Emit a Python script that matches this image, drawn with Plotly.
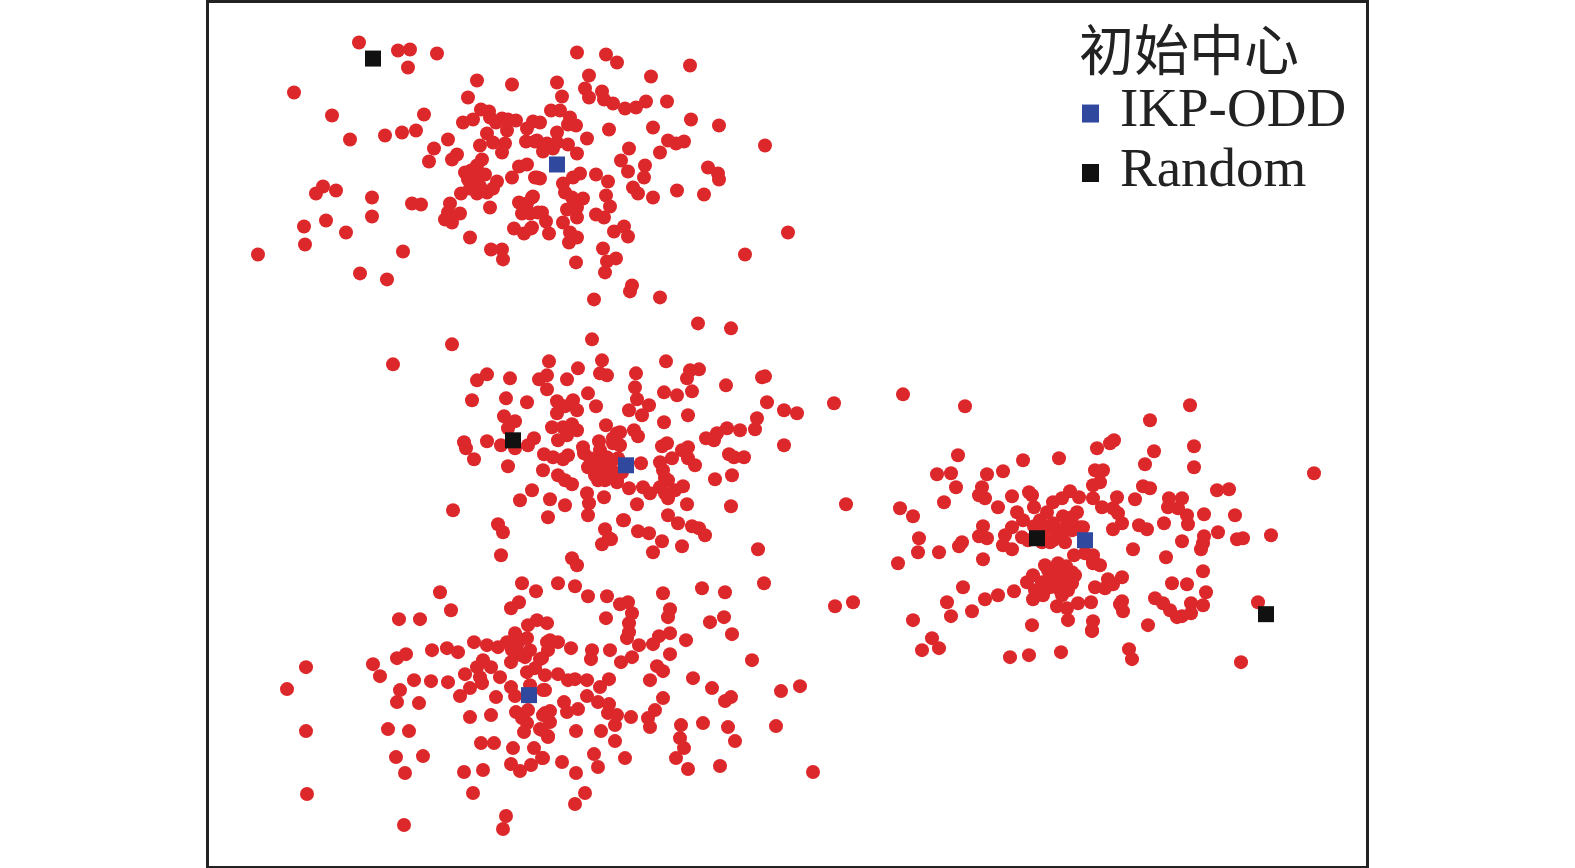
import plotly.graph_objects as go

# values, one list per cluster
cluster_top = [
    (359,42),(398,50),(410,49),(437,53),(408,67),(294,92),(332,115),(350,139),(385,135),(402,132),
    (416,130),(424,114),(477,80),(512,84),(468,97),(481,109),(489,111),(463,122),(473,119),(490,117),
    (496,122),(502,118),(508,119),(516,120),(533,121),(527,128),(487,133),(507,130),(493,142),(505,143),
    (502,152),(526,141),(535,141),(480,145),(448,139),(434,148),(457,154),(452,159),(429,161),(482,159),
    (527,164),(519,166),(471,170),(485,174),(477,165),(468,179),(473,183),(497,181),(512,177),(537,177),
    (323,186),(316,193),(336,190),(372,197),(412,203),(421,204),(372,216),(461,193),(450,203),(477,193),
    (487,192),(493,188),(490,207),(460,213),(448,212),(445,219),(452,222),(533,196),(519,202),(527,203),
    (522,213),(530,213),(538,212),(532,227),(514,228),(524,233),(304,226),(326,220),(346,232),(305,244),
    (258,254),(403,251),(470,237),(491,249),(502,249),(503,259),(360,273),(387,279),
    (577,52),(606,54),(617,62),(690,65),(589,75),(651,76),(557,82),(585,88),(602,91),(562,96),
    (589,97),(604,99),(613,103),(625,108),(636,107),(646,101),(667,101),(551,110),(560,110),(570,117),
    (568,124),(576,125),(691,119),(719,125),(540,122),(609,129),(653,127),(557,132),(587,138),(668,140),
    (676,143),(684,141),(765,145),(537,140),(547,143),(557,142),(568,144),(543,151),(553,148),(577,153),
    (629,148),(660,152),(621,160),(645,165),(708,167),(628,171),(718,173),(719,179),(580,173),(596,174),
    (608,181),(540,178),(535,177),(563,183),(573,177),(644,177),(633,187),(638,193),(653,197),(677,190),
    (704,194),(565,192),(606,195),(572,197),(583,198),(532,197),(610,206),(567,209),(577,207),(596,214),
    (604,217),(577,217),(542,212),(546,221),(563,222),(549,233),(531,228),(624,226),(614,231),(628,236),
    (570,232),(577,237),(569,242),(603,248),(616,258),(607,261),(605,272),(576,262),(788,232),(745,254),
    (632,285),(630,291),(660,297),(594,299),
    (465,172),(478,172),(470,188),(480,186),(475,178),
]
cluster_middle = [
    (452,344),(393,364),(592,339),(549,361),(602,360),(487,374),(477,380),(510,378),(547,375),(539,379),
    (578,368),(567,379),(600,373),(607,375),(547,389),(588,393),(506,398),(472,400),(527,402),(557,401),
    (573,400),(565,406),(577,410),(557,413),(596,406),(504,416),(515,421),(508,428),(552,427),(563,427),
    (572,424),(577,430),(606,425),(567,435),(558,440),(534,438),(528,445),(583,447),(599,441),(464,442),
    (466,448),(487,441),(501,445),(515,448),(474,459),(508,466),(544,454),(553,457),(568,455),(563,459),
    (584,453),(543,470),(558,475),(565,480),(572,484),(588,467),(597,460),(598,480),(587,493),(604,497),
    (532,490),(520,500),(550,499),(565,505),(589,503),(588,515),(548,517),(453,510),(498,524),(503,532),
    (501,555),(605,529),(609,538),(602,544),(572,558),(577,565),(617,433),(613,443),(607,457),(593,467),
    (603,470),(617,480),(623,520),
    (698,323),(731,328),(666,361),(636,373),(699,369),(690,370),(687,378),(765,376),(762,377),(635,387),
    (726,385),(664,392),(677,395),(692,391),(637,399),(649,405),(629,410),(642,415),(767,402),(784,410),
    (797,413),(834,403),(688,415),(664,422),(757,418),(755,429),(740,430),(727,428),(717,433),(706,438),
    (714,440),(620,432),(634,430),(638,436),(613,438),(667,443),(662,446),(688,447),(682,450),(672,458),
    (784,445),(729,454),(734,457),(744,457),(660,462),(641,463),(688,458),(695,465),(663,470),(732,475),
    (715,479),(665,478),(617,482),(629,488),(643,487),(650,493),(660,487),(668,480),(683,486),(675,490),
    (665,493),(668,498),(637,504),(687,504),(731,506),(846,504),(668,515),(678,523),(624,520),(692,526),
    (699,528),(705,535),(638,531),(649,533),(662,541),(682,546),(653,552),(758,549),(611,539),
    (600,450),(610,462),(595,475),(605,480),(612,470),(590,458),(620,445),(618,458),(622,472),
]
cluster_bottom = [
    (522,583),(536,591),(440,592),(451,610),(519,602),(511,608),(399,619),(420,619),(537,620),(528,625),
    (547,623),(515,633),(507,642),(474,642),(487,645),(498,647),(517,645),(527,638),(547,642),(432,650),
    (447,648),(458,652),(406,654),(397,658),(306,667),(373,664),(380,676),(483,660),(477,667),(491,667),
    (511,662),(525,657),(540,659),(527,672),(535,668),(465,674),(480,677),(500,677),(545,675),(414,680),
    (431,681),(448,682),(482,683),(470,688),(511,687),(530,685),(545,690),(400,690),(460,696),(496,697),
    (515,696),(287,689),(397,702),(419,703),(516,712),(528,710),(545,713),(470,717),(491,715),(522,718),
    (527,723),(524,732),(540,729),(548,737),(306,731),(388,729),(409,731),(481,743),(494,743),(513,748),
    (534,748),(396,757),(423,756),(542,758),(511,764),(531,765),(520,771),(405,773),(464,772),(483,770),
    (473,793),(307,794),(506,816),(503,829),(404,825),
    (558,583),(575,586),(588,596),(607,596),(620,604),(628,602),(632,613),(663,593),(702,588),(725,592),
    (764,583),(670,609),(668,617),(724,617),(710,622),(606,618),(629,623),(629,632),(732,634),(670,633),
    (659,636),(653,644),(627,638),(639,645),(686,640),(550,640),(558,642),(548,650),(571,648),(592,650),
    (591,659),(610,650),(632,657),(621,662),(670,654),(752,660),(542,658),(657,666),(663,671),(650,680),
    (693,678),(558,674),(568,680),(575,679),(587,680),(609,679),(600,687),(543,690),(712,688),(800,686),
    (781,691),(587,696),(564,702),(598,702),(609,704),(663,698),(731,697),(725,701),(578,709),(567,712),
    (655,710),(550,711),(608,713),(617,715),(631,717),(648,718),(543,715),(550,722),(615,725),(650,727),
    (681,725),(703,723),(728,727),(776,726),(576,731),(601,731),(548,736),(542,730),(680,738),(735,741),
    (615,741),(684,748),(594,754),(676,758),(625,758),(543,758),(562,762),(598,767),(688,769),(720,766),
    (576,773),(813,772),(585,793),(575,804),(835,606),(853,602),
    (520,640),(512,650),(530,650),(521,655),
]
cluster_right = [
    (903,394),(965,406),(958,455),(1023,460),(1059,458),(1097,448),(937,474),(951,473),(987,474),(1003,471),
    (1095,470),(956,487),(982,487),(979,495),(985,498),(1012,496),(1029,492),(1032,495),(1093,485),(1070,491),
    (1079,497),(1062,498),(1053,502),(1093,498),(944,502),(900,508),(998,507),(913,516),(1034,507),(1017,512),
    (1047,512),(1077,512),(1063,516),(1072,517),(1023,520),(1040,520),(1053,523),(983,526),(1012,527),(1080,527),
    (1065,528),(919,538),(979,536),(987,538),(962,542),(959,546),(1005,535),(1022,537),(1053,540),(1065,542),
    (1050,542),(1003,545),(1012,549),(918,552),(939,552),(898,563),(983,559),(1074,555),(1085,553),(1093,560),
    (1045,565),(1060,568),(1072,572),(1050,577),(1033,575),(1075,575),(1027,582),(1057,583),(1072,583),(1050,587),
    (963,587),(1035,590),(1095,587),(1014,591),(998,595),(985,599),(1043,595),(1033,599),(1062,595),(1078,603),
    (1091,602),(1057,606),(1067,608),(947,602),(972,611),(951,616),(913,620),(1068,620),(1093,621),(1032,625),
    (1092,631),(932,638),(939,648),(922,650),(1010,657),(1029,655),(1061,652),
    (1055,572),(1065,578),(1048,570),(1060,590),(1068,590),(1042,582),(1058,563),(1066,566),
    (1056,530),(1062,534),(1044,530),(1034,526),(1042,542),(1028,540),(1072,530),
    (1190,405),(1150,420),(1114,440),(1110,443),(1194,446),(1154,451),(1145,464),(1194,467),(1314,473),(1103,470),
    (1100,482),(1143,486),(1150,488),(1217,490),(1229,489),(1117,497),(1135,499),(1169,498),(1182,498),(1168,507),
    (1178,508),(1102,507),(1113,508),(1118,513),(1187,515),(1204,514),(1235,515),(1188,524),(1164,523),(1122,523),
    (1113,529),(1139,525),(1147,529),(1083,527),(1204,536),(1218,532),(1237,539),(1243,538),(1271,535),(1182,541),
    (1203,543),(1201,549),(1133,549),(1166,557),(1093,555),(1093,563),(1100,565),(1203,571),(1108,579),(1122,577),
    (1105,588),(1113,584),(1172,583),(1187,584),(1206,592),(1155,598),(1163,603),(1122,601),(1120,604),(1123,611),
    (1191,603),(1203,605),(1170,610),(1177,617),(1182,616),(1191,613),(1258,602),(1092,630),(1148,625),(1129,649),
    (1132,659),(1241,662),
]
ikp_centers = [(557,164),(626,465),(529,695),(1085,540)]
random_centers = [(373,58),(513,440),(1037,538),(1266,614)]

legend_title = "初始中心"
legend_labels = ["IKP-ODD", "Random"]

RED, BLUE, BLACK = "#DD282B", "#30499F", "#111111"
W, H = 1575, 868
BOX_L, BOX_R, BOX_B = 209, 1366, 866
Y_TOP = 2.4  # plotly keeps about this much room above the plot

points = cluster_top + cluster_middle + cluster_bottom + cluster_right

fig = go.Figure()
fig.add_trace(go.Scatter(
    x=[p[0] for p in points], y=[p[1] for p in points], mode="markers", name="data",
    marker=dict(color=RED, size=14), showlegend=False))
fig.add_trace(go.Scatter(
    x=[p[0] for p in ikp_centers], y=[p[1] for p in ikp_centers], mode="markers", name=legend_labels[0],
    marker=dict(color=BLUE, size=16, symbol="square"), showlegend=False))
fig.add_trace(go.Scatter(
    x=[p[0] for p in random_centers], y=[p[1] for p in random_centers], mode="markers", name=legend_labels[1],
    marker=dict(color=BLACK, size=16, symbol="square"), showlegend=False))

# hand placed legend, plotly's own line spacing is too wide at this font size
fig.add_annotation(text=legend_title, x=1077, y=45, xref="x", yref="y", xanchor="left", yanchor="middle",
                   showarrow=False, font=dict(family="Noto Sans CJK SC", size=55, color="#222222"))
for label, ty, color, ky in zip(legend_labels, [107, 167], [BLUE, BLACK], [113, 172.5]):
    fig.add_annotation(text=label, x=1118, y=ty, xref="x", yref="y", xanchor="left", yanchor="middle",
                       showarrow=False, font=dict(family="Liberation Serif", size=55, color="#222222"))
    fig.add_shape(type="rect", xref="x", yref="y", x0=1082, x1=1099, y0=ky - 9, y1=ky + 9,
                  fillcolor=color, line_width=0)

fig.update_xaxes(range=[BOX_L, BOX_R], showgrid=False, zeroline=False, showticklabels=False, ticks="",
                 showline=True, mirror=True, linecolor="#222222", linewidth=3)
fig.update_yaxes(range=[BOX_B, Y_TOP], showgrid=False, zeroline=False, showticklabels=False, ticks="",
                 showline=True, mirror=True, linecolor="#222222", linewidth=3)
fig.update_layout(width=W, height=H, showlegend=False, plot_bgcolor="white", paper_bgcolor="white",
                  margin=dict(l=BOX_L, r=W - BOX_R, t=0, b=H - BOX_B, pad=0))
# page margin would push the fixed size figure off the window
fig.write_html("out.html", config={"displayModeBar": False},
               post_script="document.body.style.margin='0';document.documentElement.style.overflow='hidden';")
